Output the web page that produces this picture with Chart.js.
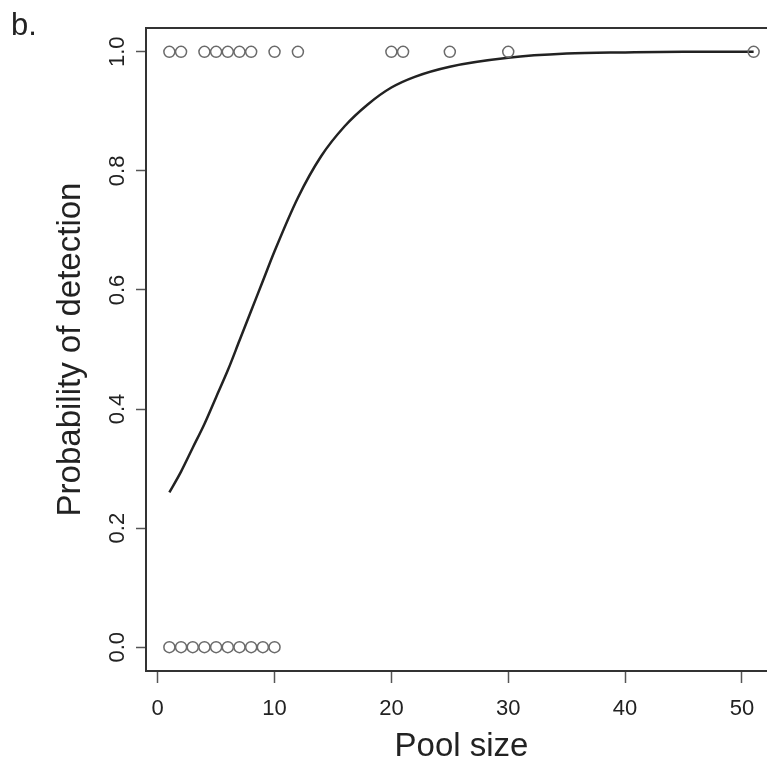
<!DOCTYPE html>
<html>
<head>
<meta charset="utf-8">
<script src="https://cdn.jsdelivr.net/npm/chart.js@4.4.1/dist/chart.umd.min.js"></script>
<style>
  html, body { margin: 0; padding: 0; background: #fff; overflow: hidden; }
</style>
</head>
<body>
<canvas id="poolChart" width="790" height="764"></canvas>
<script>
// pools with a positive result (detected = 1)
const positivePools = [1, 2, 4, 5, 6, 7, 8, 10, 12, 20, 21, 25, 30, 51];
// pools with a negative result (detected = 0)
const negativePools = [1, 2, 3, 4, 5, 6, 7, 8, 9, 10];
// fitted curve
const curveSize = [1, 2, 3, 4, 5, 6, 7, 8, 9, 10, 12, 14, 16, 18, 20, 22, 25, 30, 35, 40, 45, 51];
const curveProb = [0.26, 0.295, 0.335, 0.375, 0.42, 0.465, 0.515, 0.565, 0.615, 0.665, 0.755, 0.825, 0.875, 0.912, 0.94, 0.958, 0.975, 0.99, 0.997, 0.999, 1.0, 1.0];
const xTicks = [0, 10, 20, 30, 40, 50];
const yTicks = [0, 0.2, 0.4, 0.6, 0.8, 1.0];

const font = "'Liberation Sans', Arial, sans-serif";
const inkColor = "#222";

const boxPlugin = {
  id: "boxPlugin",
  afterDraw(chart) {
    const ctx = chart.ctx;
    const a = chart.chartArea;
    ctx.save();
    ctx.strokeStyle = "#333";
    ctx.lineWidth = 2;
    ctx.strokeRect(a.left, a.top, a.right - a.left, a.bottom - a.top);
    ctx.fillStyle = inkColor;
    ctx.font = "31px " + font;
    ctx.textBaseline = "alphabetic";
    ctx.fillText("b.", 11, 35);
    ctx.restore();
  }
};

new Chart(document.getElementById("poolChart"), {
  type: "scatter",
  data: {
    datasets: [
      {
        label: "Detected",
        data: positivePools.map((x) => ({ x: x, y: 1 })),
        pointRadius: 5.5,
        pointBorderWidth: 1.5,
        pointBorderColor: "#6a6a6a",
        pointBackgroundColor: "rgba(0,0,0,0)",
        clip: false,
      },
      {
        label: "Not detected",
        data: negativePools.map((x) => ({ x: x, y: 0 })),
        pointRadius: 5.5,
        pointBorderWidth: 1.5,
        pointBorderColor: "#6a6a6a",
        pointBackgroundColor: "rgba(0,0,0,0)",
        clip: false,
      },
      {
        label: "Fit",
        type: "line",
        data: curveSize.map((x, i) => ({ x: x, y: curveProb[i] })),
        borderColor: "#222",
        borderWidth: 2.5,
        pointRadius: 0,
        cubicInterpolationMode: "monotone",
        fill: false,
      },
    ],
  },
  options: {
    responsive: false,
    animation: false,
    layout: { padding: { top: 28, right: 13, left: 0, bottom: 0 } },
    plugins: {
      legend: { display: false },
      tooltip: { enabled: false },
    },
    scales: {
      x: {
        type: "linear",
        min: -1,
        max: 53,
        afterBuildTicks: (scale) => { scale.ticks = xTicks.map((v) => ({ value: v })); },
        afterFit: (scale) => { scale.height = 93; },
        grid: { drawOnChartArea: false, tickLength: 12, tickColor: "#555", tickWidth: 1.5 },
        border: { display: false },
        ticks: {
          autoSkip: false,
          maxRotation: 0,
          padding: 13,
          color: inkColor,
          font: { family: font, size: 22 },
        },
        title: {
          display: true,
          text: "Pool size",
          color: inkColor,
          font: { family: font, size: 33, lineHeight: 1 },
          padding: { top: 0, bottom: 1 },
        },
      },
      y: {
        min: -0.04,
        max: 1.04,
        afterBuildTicks: (scale) => { scale.ticks = yTicks.map((v) => ({ value: v })); },
        afterFit: (scale) => { scale.width = 146; },
        grid: { drawOnChartArea: false, tickLength: 10, tickColor: "#555", tickWidth: 1.5 },
        border: { display: false },
        ticks: {
          autoSkip: false,
          minRotation: 90,
          maxRotation: 90,
          crossAlign: "center",
          padding: 3,
          color: inkColor,
          font: { family: font, size: 22 },
          callback: (v) => Number(v).toFixed(1),
        },
        title: {
          display: true,
          text: "Probability of detection",
          color: inkColor,
          font: { family: font, size: 33, lineHeight: 1 },
          padding: { top: 54, bottom: 0 },
        },
      },
    },
  },
  plugins: [boxPlugin],
});
</script>
</body>
</html>
